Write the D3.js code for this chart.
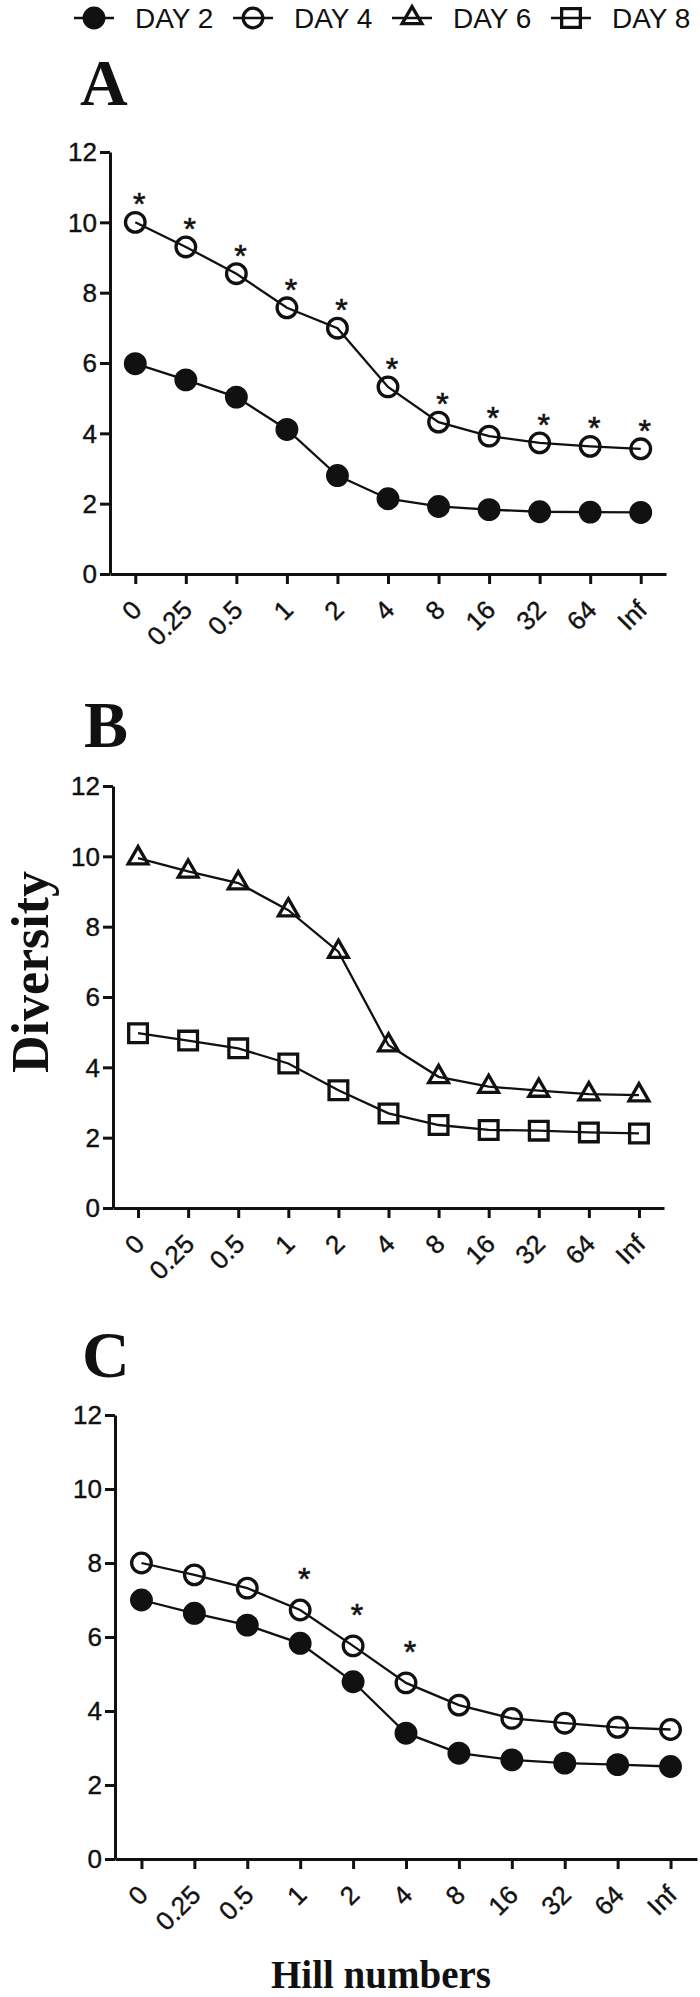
<!DOCTYPE html>
<html lang="en">
<head>
    <meta charset="UTF-8">
    <title>Hill numbers diversity</title>
    <script src="https://cdnjs.cloudflare.com/ajax/libs/d3/7.8.5/d3.min.js"></script>
    <style>
        body { margin: 0; background: #fff; }
        svg { display: block; }
        .tick text { font-family: "Liberation Sans", Arial, sans-serif; font-size: 26px; fill: #111; stroke: #111; stroke-width: 0.4px; }
        .domain, .tick line { stroke: #111; stroke-width: 3px; }
        .legend text { font-family: "Liberation Sans", Arial, sans-serif; font-size: 28px; fill: #111; }
        .panel-title, .axis-title { font-family: "Liberation Serif", "Times New Roman", serif; font-weight: bold; fill: #111; }
        .star { font-family: "Liberation Sans", Arial, sans-serif; font-size: 32px; fill: #111; stroke: #111; stroke-width: 0.6px; }
    </style>
</head>
<body>
<svg width="700" height="1997"></svg>
<script>
    // hill number orders on the x axis
    let hill = ["0", "0.25", "0.5", "1", "2", "4", "8", "16", "32", "64", "Inf"];
    let yTicks = [0, 2, 4, 6, 8, 10, 12];

    // panel A
    let aDay2 = [5.98, 5.52, 5.03, 4.11, 2.80, 2.14, 1.92, 1.83, 1.77, 1.76, 1.75];
    let aDay4 = [10.0, 9.30, 8.54, 7.57, 6.99, 5.32, 4.32, 3.92, 3.73, 3.63, 3.56];
    let aStars = [1, 1, 1, 1, 1, 1, 1, 1, 1, 1, 1];

    // panel B
    let bDay6 = [9.95, 9.57, 9.24, 8.47, 7.29, 4.63, 3.73, 3.45, 3.34, 3.24, 3.21];
    let bDay8 = [4.97, 4.76, 4.54, 4.11, 3.35, 2.69, 2.36, 2.22, 2.20, 2.15, 2.12];

    // panel C
    let cDay2 = [7.00, 6.64, 6.32, 5.83, 4.79, 3.40, 2.86, 2.68, 2.59, 2.55, 2.50];
    let cDay4 = [8.00, 7.68, 7.32, 6.73, 5.76, 4.76, 4.16, 3.80, 3.67, 3.56, 3.50];
    let cStars = [0, 0, 0, 1, 1, 1, 0, 0, 0, 0, 0];

    let legendNames = ["DAY 2", "DAY 4", "DAY 6", "DAY 8"];
    let shapes = { "DAY 2": "filled", "DAY 4": "circle", "DAY 6": "triangle", "DAY 8": "square" };

    let panels = [
        { title: "A", titleX: 80, titleY: 105, x0: 110, x1: 666, yTop: 152, yBot: 574,
          series: [["DAY 2", aDay2], ["DAY 4", aDay4]], stars: aStars, starOff: 25 },
        { title: "B", titleX: 84, titleY: 747, x0: 113, x1: 664, yTop: 786, yBot: 1208,
          series: [["DAY 6", bDay6], ["DAY 8", bDay8]], stars: null, starOff: 0 },
        { title: "C", titleX: 82, titleY: 1377, x0: 115, x1: 697, yTop: 1415, yBot: 1859,
          series: [["DAY 2", cDay2], ["DAY 4", cDay4]], stars: cStars, starOff: 38 }
    ];

    let svg = d3.select("svg");

    function drawMarker(sel, shape) {
        if (shape === "filled" || shape === "circle") {
            sel.append("circle").attr("r", 9.8)
                .attr("fill", shape === "filled" ? "#111" : "none")
                .attr("stroke", "#111").attr("stroke-width", 3.3);
        } else {
            let sym = shape === "triangle" ? d3.symbolTriangle : d3.symbolSquare;
            let size = shape === "triangle" ? 170 : 350;
            sel.append("path").attr("d", d3.symbol().type(sym).size(size)())
                .attr("fill", "none").attr("stroke", "#111").attr("stroke-width", 3.3);
        }
    }

    // legend
    let legend = svg.append("g").attr("class", "legend");
    legendNames.forEach((name, i) => {
        let lx = 74 + i * 159;
        let g = legend.append("g").attr("transform", `translate(${lx},18)`);
        g.append("line").attr("x1", 0).attr("x2", 40).attr("stroke", "#111").attr("stroke-width", 2.5);
        drawMarker(g.append("g").attr("transform", "translate(20,0)"), shapes[name]);
        g.append("text").attr("x", 61).attr("y", 10).text(name);
    });

    panels.forEach(p => {
        let x = d3.scalePoint().domain(hill).range([p.x0, p.x1]).padding(0.5);
        let y = d3.scaleLinear().domain([0, 12]).range([p.yBot, p.yTop]);

        svg.append("text").attr("class", "panel-title")
            .attr("x", p.titleX).attr("y", p.titleY)
            .style("font-size", "66px").text(p.title);

        svg.append("g").attr("transform", `translate(${p.x0},0)`)
            .call(d3.axisLeft(y).tickValues(yTicks).tickSize(10).tickSizeOuter(0).tickPadding(3))
            .call(g => g.selectAll(".tick text").attr("dy", "0.34em"));

        svg.append("g").attr("transform", `translate(0,${p.yBot})`)
            .call(d3.axisBottom(x).tickSize(10).tickSizeOuter(0))
            .call(g => g.selectAll(".tick text")
                .attr("x", 0).attr("y", 0).attr("dy", "0.35em")
                .attr("text-anchor", "end")
                .attr("transform", "translate(1,31) rotate(-45)"));

        let line = d3.line().x((d, i) => x(hill[i])).y(d => y(d));

        p.series.forEach(([name, vals]) => {
            svg.append("path").datum(vals)
                .attr("d", line).attr("fill", "none")
                .attr("stroke", "#111").attr("stroke-width", 2.3);
            svg.append("g").selectAll("g")
                .data(vals).enter().append("g")
                .attr("transform", (d, i) => `translate(${x(hill[i])},${y(d)})`)
                .each(function () { drawMarker(d3.select(this), shapes[name]); });
        });

        if (p.stars) {
            let top = p.series[1][1];
            svg.append("g").selectAll("text")
                .data(p.stars.map((s, i) => ({ s, i })).filter(d => d.s))
                .enter().append("text").attr("class", "star")
                .attr("text-anchor", "middle")
                .attr("x", d => x(hill[d.i]) + 4)
                .attr("y", d => y(top[d.i]) - p.starOff + 18)
                .text("*");
        }
    });

    svg.append("text").attr("class", "axis-title")
        .attr("transform", "translate(48,972) rotate(-90)")
        .attr("text-anchor", "middle").style("font-size", "52px")
        .text("Diversity");

    svg.append("text").attr("class", "axis-title")
        .attr("x", 381).attr("y", 1988)
        .attr("text-anchor", "middle").style("font-size", "39px")
        .text("Hill numbers");
</script>
</body>
</html>
